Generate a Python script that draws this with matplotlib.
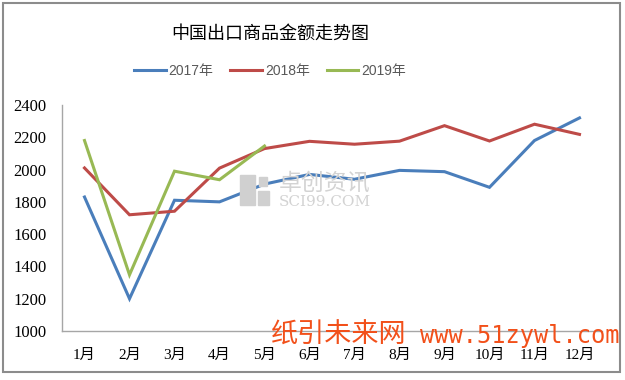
import matplotlib.pyplot as plt
from matplotlib.patches import Rectangle

months = ['1月', '2月', '3月', '4月', '5月', '6月', '7月', '8月', '9月', '10月', '11月', '12月']
v2017 = [1830, 1200, 1810, 1800, 1910, 1970, 1940, 1995, 1987, 1890, 2180, 2320]
v2018 = [2010, 1720, 1742, 2009, 2130, 2175, 2157, 2176, 2272, 2177, 2281, 2218]
v2019 = [2180, 1348, 1990, 1937, 2146]
yticks = [1000, 1200, 1400, 1600, 1800, 2000, 2200, 2400]

plt.rcParams['font.family'] = ['Liberation Serif', 'Noto Sans CJK SC', 'DejaVu Sans']

fig = plt.figure(figsize=(6.25, 3.8), dpi=100)
ax = fig.add_axes([62 / 625, 1 - 331 / 380, 540 / 625, 226 / 380])

x = list(range(1, 13))
ax.plot(x, v2017, color='#4A7EBB', lw=2.2, label='2017年', solid_joinstyle='miter')
ax.plot(x, v2018, color='#BE4B48', lw=2.2, label='2018年', solid_joinstyle='miter')
ax.plot(x[:len(v2019)], v2019, color='#98B954', lw=2.2, label='2019年', solid_joinstyle='miter')

ax.set_xlim(0.5, 12.5)
ax.set_ylim(1000, 2400)
ax.set_yticks(yticks)
ax.set_yticklabels([str(v) for v in yticks], fontsize=12)
ax.set_xticks(x)
ax.set_xticklabels(months, fontsize=11)
ax.tick_params(length=0, pad=11, axis='y')
ax.tick_params(length=0, pad=13, axis='x')
for s in ['top', 'right']:
    ax.spines[s].set_visible(False)
for s in ['left', 'bottom']:
    ax.spines[s].set_color('#A6A6A6')
    ax.spines[s].set_linewidth(1.0)

# title and legend
fig.text(0.432, 1 - 34 / 380, '中国出口商品金额走势图', ha='center', va='center',
         fontsize=13, family=['Noto Sans CJK SC'])
leg = fig.legend(loc='center', bbox_to_anchor=(0.432, 1 - 71 / 380), ncol=3, frameon=False,
                 handlelength=2.3, columnspacing=1.2, handletextpad=0.2,
                 prop={'family': ['Liberation Sans', 'Noto Sans CJK SC'], 'size': 10})
for t in leg.get_texts():
    t.set_color('#595959')

# watermarks
wm = '#D0D0D0'
fig.patches.append(Rectangle((240 / 625, 1 - 205 / 380), 15 / 625, 30 / 380,
                             transform=fig.transFigure, color=wm, zorder=0))
fig.patches.append(Rectangle((258 / 625, 1 - 205 / 380), 11 / 625, 14 / 380,
                             transform=fig.transFigure, color=wm, zorder=0))
fig.patches.append(Rectangle((259 / 625, 1 - 186 / 380), 8 / 625, 9 / 380,
                             transform=fig.transFigure, color=wm, zorder=0))
fig.text(279 / 625, 1 - 183 / 380, '卓创资讯', fontsize=16.5, color='#D3D3D3',
         va='center', family=['Noto Sans CJK SC'], zorder=0)
fig.text(279 / 625, 1 - 202 / 380, 'SCI99.COM', fontsize=11, color='#D3D3D3',
         va='center', family=['DejaVu Serif'], zorder=0)
fig.text(271 / 625, 1 - 335 / 380, '纸引未来网', fontsize=19.5, color='#F2501A',
         va='center', family=['Noto Sans CJK SC'])
fig.text(420 / 625, 1 - 336 / 380, 'www.51zywl.com', fontsize=17, color='#F2501A',
         va='center', family=['DejaVu Sans Mono'])

# outer frame
fig.patches.append(Rectangle((3 / 625, 1 - 372 / 380), 617 / 625, 369 / 380,
                             transform=fig.transFigure, fill=False, edgecolor='#8C8C8C', lw=1.5))

fig.savefig('out.png', dpi=100)
